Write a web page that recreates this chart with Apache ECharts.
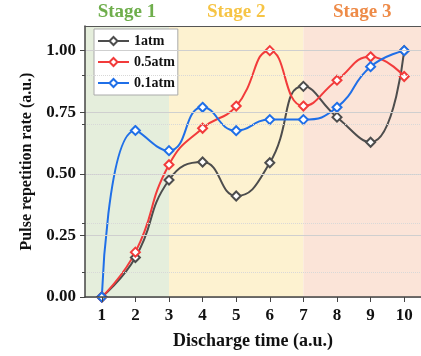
<!DOCTYPE html>
<html>
<head>
<meta charset="utf-8">
<script src="https://cdn.jsdelivr.net/npm/echarts@6/dist/echarts.min.js"></script>
<style>
  html, body { margin: 0; padding: 0; background: #fff; }
  #frame { width: 421px; height: 356px; }
</style>
</head>
<body>
<div id="frame"></div>
<script>
// discharge time steps
const times = [1, 2, 3, 4, 5, 6, 7, 8, 9, 10];
const rate1atm = [0, 0.16, 0.475, 0.548, 0.41, 0.545, 0.855, 0.73, 0.628, 1.0];
const rate05atm = [0, 0.182, 0.537, 0.685, 0.775, 1.0, 0.775, 0.88, 0.975, 0.895];
const rate01atm = [0, 0.676, 0.594, 0.77, 0.675, 0.72, 0.72, 0.77, 0.935, 1.0];
const yTicks = [0, 0.25, 0.5, 0.75, 1.0];
const stages = [
  { name: 'Stage 1', from: 0.5, to: 3, fill: '#e5eedc', text: '#6fae4c' },
  { name: 'Stage 2', from: 3, to: 7, fill: '#fdf2d0', text: '#f6c445' },
  { name: 'Stage 3', from: 7, to: 10.5, fill: '#fbe4d8', text: '#ee8b48' }
];

const serif = 'Liberation Serif';
const pair = arr => arr.map((v, i) => [times[i], v]);

function lineSeries(name, values, color) {
  return {
    name: name,
    type: 'line',
    smooth: 0.5,
    data: pair(values),
    symbol: 'diamond',
    symbolSize: 9,
    lineStyle: { color: color, width: 2 },
    itemStyle: { color: '#fff', borderColor: color, borderWidth: 2 },
    z: 3
  };
}

const chart = echarts.init(document.getElementById('frame'));
chart.setOption({
  animation: false,
  backgroundColor: '#fff',
  grid: { left: 85, right: 0, top: 26, bottom: 59 },
  legend: {
    left: 94, top: 29, orient: 'vertical',
    itemWidth: 31, itemHeight: 10, itemGap: 7,
    backgroundColor: '#fff', borderColor: '#aaa', borderWidth: 1, padding: [5, 3, 5, 3],
    textStyle: { fontFamily: serif, fontWeight: 'bold', fontSize: 14, color: '#111' },
    data: ['1atm', '0.5atm', '0.1atm']
  },
  xAxis: [{
    type: 'value', min: 0.5, max: 10.5, z: 5,
    name: 'Discharge time (a.u.)', nameLocation: 'middle', nameGap: 35,
    nameTextStyle: { fontFamily: serif, fontWeight: 'bold', fontSize: 18, color: '#111' },
    axisLine: { lineStyle: { color: '#444', width: 1.5 } },
    axisTick: { customValues: times, length: 5, lineStyle: { color: '#444' } },
    axisLabel: { customValues: times, margin: 10, fontFamily: serif, fontWeight: 'bold', fontSize: 17, color: '#111' },
    splitLine: { show: false }
  }, {
    // top frame line only
    type: 'value', position: 'top', min: 0.5, max: 10.5, z: 5,
    axisLine: { show: true, lineStyle: { color: '#555', width: 1.2 } },
    axisTick: { show: false }, axisLabel: { show: false }, splitLine: { show: false }
  }],
  yAxis: {
    type: 'value', min: 0, max: 1.1, z: 5,
    name: 'Pulse repetition rate (a.u.)', nameLocation: 'middle', nameGap: 49,
    nameTextStyle: { fontFamily: serif, fontWeight: 'bold', fontSize: 16, color: '#111' },
    axisLine: { show: true, lineStyle: { color: '#444', width: 1.5 } },
    axisTick: { show: true, customValues: yTicks, length: 5, lineStyle: { color: '#444' } },
    axisLabel: {
      customValues: yTicks, margin: 9,
      fontFamily: serif, fontWeight: 'bold', fontSize: 17, color: '#111',
      formatter: v => v.toFixed(2)
    },
    splitLine: { show: true, lineStyle: { color: '#cfcfcf', width: 1 } },
    minorTick: { show: true, splitNumber: 2, length: 3, lineStyle: { color: '#444' } },
    minorSplitLine: { show: true, lineStyle: { color: '#d8d8d8', type: 'dotted' } }
  },
  series: [
    {
      type: 'line', data: [], silent: true,
      markArea: {
        silent: true,
        data: stages.map(s => [
          { xAxis: s.from, yAxis: 1.1, itemStyle: { color: s.fill },
            label: { show: true, position: 'top', distance: 4, formatter: s.name,
              fontFamily: serif, fontWeight: 'bold', fontSize: 19, color: s.text } },
          { xAxis: s.to, yAxis: 0 }
        ])
      },
      z: 1
    },
    lineSeries('1atm', rate1atm, '#4d4d4d'),
    lineSeries('0.5atm', rate05atm, '#f23b3b'),
    lineSeries('0.1atm', rate01atm, '#1f6fe8')
  ]
});
</script>
</body>
</html>
